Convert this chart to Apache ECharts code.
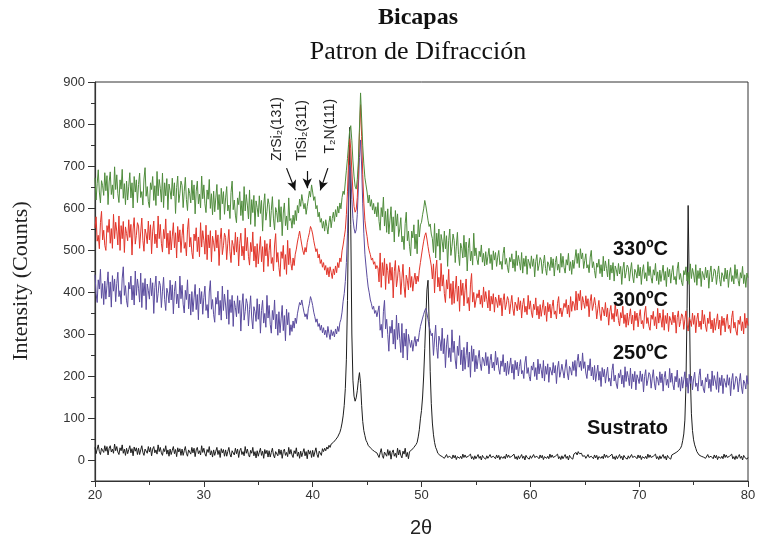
<!DOCTYPE html>
<html>
<head>
<meta charset="utf-8">
<script src="https://cdn.jsdelivr.net/npm/echarts@6/dist/echarts.min.js"></script>
<style>
  html, body { margin: 0; padding: 0; background: #ffffff; }
  #chart { width: 760px; height: 541px; }
</style>
</head>
<body>
<div id="chart"></div>
<script>
// Diffraction scans, 2θ from 20° to 80° sampled every 0.1° (one row of ten readings per degree)
const ANGLE_START = 20;
const ANGLE_STEP = 0.1;

const sustrato = [
  30, 15, 26, 36, 20, 13, 28, 25, 18, 34,
  21, 32, 12, 28, 34, 19, 26, 16, 38, 22,
  32, 19, 13, 29, 22, 36, 16, 26, 11, 28,
  15, 25, 34, 17, 27, 10, 31, 21, 29, 13,
  28, 13, 24, 34, 18, 11, 26, 23, 16, 32,
  19, 30, 10, 26, 32, 17, 24, 14, 36, 20,
  30, 17, 11, 27, 20, 34, 14, 24, 9, 26,
  13, 23, 32, 15, 25, 8, 29, 19, 27, 11,
  26, 11, 22, 32, 16, 9, 24, 21, 14, 30,
  17, 28, 8, 24, 30, 15, 22, 12, 34, 18,
  28, 15, 9, 25, 18, 32, 12, 22, 7, 24,
  11, 21, 30, 13, 23, 6, 27, 17, 25, 9,
  24, 9, 20, 30, 14, 7, 22, 19, 12, 28,
  15, 26, 6, 22, 28, 13, 20, 10, 32, 16,
  26, 13, 7, 23, 16, 30, 10, 20, 5, 22,
  9, 19, 28, 11, 21, 4, 25, 15, 23, 7,
  22, 7, 18, 28, 12, 5, 20, 17, 10, 26,
  13, 24, 4, 20, 26, 11, 18, 8, 30, 14,
  25, 12, 6, 22, 15, 29, 9, 19, 4, 21,
  8, 18, 27, 10, 20, 3, 24, 14, 22, 6,
  23, 8, 19, 29, 13, 6, 21, 18, 11, 27,
  20, 28, 22, 31, 26, 35, 30, 38, 34, 42,
  40, 48, 46, 55, 58, 66, 75, 88, 105, 130,
  170, 240, 380, 600, 792, 560, 300, 190, 152, 140,
  148, 165, 190, 208, 182, 130, 92, 70, 58, 47,
  42, 35, 38, 29, 31, 24, 27, 20, 23, 17,
  21, 6, 17, 27, 11, 4, 19, 16, 9, 25,
  11, 22, 2, 18, 24, 9, 16, 6, 28, 12,
  24, 11, 5, 21, 14, 28, 8, 18, 3, 20,
  18, 24, 22, 30, 28, 37, 42, 55, 72, 98,
  118, 150, 200, 265, 340, 405, 428, 330, 210, 135,
  88, 60, 42, 30, 24, 16, 18, 11, 14, 8,
  10, 4, 8, 13, 6, 2, 9, 7, 3, 12,
  5, 11, 1, 8, 12, 4, 9, 3, 14, 6,
  12, 6, 2, 9, 5, 14, 3, 8, 1, 10,
  3, 8, 13, 4, 9, 0, 11, 6, 10, 2,
  10, 4, 8, 13, 6, 2, 9, 7, 3, 12,
  5, 11, 1, 8, 12, 4, 9, 3, 14, 6,
  12, 6, 2, 9, 5, 14, 3, 8, 1, 10,
  3, 8, 13, 4, 9, 0, 11, 6, 10, 2,
  10, 4, 8, 13, 6, 2, 9, 7, 3, 12,
  5, 11, 1, 8, 12, 4, 9, 3, 14, 6,
  12, 6, 2, 9, 5, 14, 3, 8, 1, 10,
  3, 8, 13, 4, 9, 0, 11, 6, 10, 2,
  14, 10, 18, 12, 20, 15, 11, 16, 9, 13,
  10, 4, 8, 13, 6, 2, 9, 7, 3, 12,
  5, 11, 1, 8, 12, 4, 9, 3, 14, 6,
  12, 6, 2, 9, 5, 14, 3, 8, 1, 10,
  3, 8, 13, 4, 9, 0, 11, 6, 10, 2,
  10, 4, 8, 13, 6, 2, 9, 7, 3, 12,
  5, 11, 1, 8, 12, 4, 9, 3, 14, 6,
  12, 6, 2, 9, 5, 14, 3, 8, 1, 10,
  3, 8, 13, 4, 9, 0, 11, 6, 10, 2,
  12, 8, 15, 11, 18, 14, 22, 19, 28, 34,
  46, 62, 95, 180, 360, 606, 420, 200, 110, 70,
  48, 36, 28, 20, 18, 12, 14, 9, 11, 7,
  10, 4, 8, 13, 6, 2, 9, 7, 3, 12,
  5, 11, 1, 8, 12, 4, 9, 3, 14, 6,
  12, 6, 2, 9, 5, 14, 3, 8, 1, 10,
  3, 8, 13, 4, 9, 0, 11, 6, 10, 2,
  6
];

const t250 = [
  441, 396, 375, 429, 407, 454, 385, 420, 370, 426,
  383, 416, 448, 388, 424, 364, 439, 402, 431, 377,
  420, 447, 389, 403, 371, 433, 460, 392, 415, 379,
  364, 423, 407, 438, 381, 416, 369, 450, 392, 431,
  409, 376, 445, 363, 422, 391, 432, 358, 419, 403,
  383, 433, 391, 422, 349, 411, 438, 375, 396, 426,
  416, 363, 402, 435, 382, 356, 409, 397, 374, 428,
  381, 417, 348, 402, 426, 372, 395, 362, 438, 384,
  416, 371, 350, 404, 382, 429, 360, 395, 345, 401,
  353, 386, 418, 358, 394, 334, 409, 372, 401, 347,
  387, 414, 356, 370, 338, 400, 427, 359, 382, 346,
  328, 387, 371, 402, 345, 380, 333, 414, 356, 395,
  369, 336, 405, 323, 382, 351, 392, 318, 379, 363,
  341, 391, 349, 380, 307, 369, 396, 333, 354, 384,
  372, 319, 358, 391, 338, 312, 365, 353, 330, 384,
  335, 371, 302, 356, 380, 326, 349, 316, 392, 338,
  368, 323, 302, 356, 334, 381, 312, 347, 297, 353,
  303, 336, 368, 308, 344, 284, 359, 322, 351, 297,
  322, 306, 331, 314, 338, 325, 348, 362, 375, 369,
  381, 366, 352, 341, 348, 335, 360, 372, 389, 380,
  368, 352, 341, 328, 336, 318, 325, 309, 321, 303,
  315, 298, 309, 292, 318, 301, 287, 310, 296, 306,
  293, 312, 300, 318, 306, 327, 335, 352, 378, 396,
  425, 470, 540, 630, 702, 690, 620, 575, 552, 540,
  548, 585, 650, 720, 762, 700, 610, 540, 490, 462,
  435, 412, 398, 381, 372, 359, 366, 349, 356, 341,
  340, 367, 309, 323, 291, 353, 380, 312, 335, 299,
  259, 318, 302, 333, 276, 311, 264, 345, 287, 326,
  289, 256, 325, 243, 302, 271, 312, 238, 299, 283,
  268, 285, 259, 279, 294, 271, 288, 282, 303, 318,
  322, 338, 347, 356, 361, 349, 335, 318, 309, 296,
  302, 249, 288, 321, 268, 242, 295, 283, 260, 314,
  253, 289, 220, 274, 298, 244, 267, 234, 310, 256,
  283, 238, 217, 271, 249, 296, 227, 262, 212, 268,
  216, 249, 281, 221, 257, 197, 272, 235, 264, 210,
  249, 217, 241, 261, 229, 213, 245, 238, 224, 256,
  225, 246, 205, 237, 252, 219, 233, 213, 259, 226,
  244, 217, 204, 236, 223, 251, 210, 231, 201, 235,
  204, 224, 243, 207, 228, 192, 237, 215, 233, 200,
  223, 239, 205, 213, 194, 231, 247, 206, 220, 199,
  188, 224, 214, 233, 199, 220, 191, 240, 205, 229,
  215, 195, 237, 188, 223, 204, 229, 185, 221, 212,
  202, 232, 207, 225, 182, 219, 235, 197, 210, 228,
  227, 195, 219, 239, 207, 191, 223, 216, 202, 234,
  213, 237, 199, 234, 252, 221, 235, 213, 255, 218,
  234, 207, 194, 226, 213, 241, 200, 221, 191, 225,
  187, 207, 226, 190, 211, 175, 220, 198, 216, 183,
  205, 221, 187, 195, 176, 213, 229, 188, 202, 181,
  170, 206, 196, 215, 181, 202, 173, 222, 187, 211,
  197, 177, 219, 170, 205, 186, 211, 167, 203, 194,
  182, 212, 187, 205, 162, 199, 215, 177, 190, 208,
  203, 171, 195, 215, 183, 167, 199, 192, 178, 210,
  184, 205, 164, 196, 211, 178, 192, 172, 218, 185,
  207, 180, 167, 199, 186, 214, 173, 194, 164, 198,
  171, 191, 210, 174, 195, 159, 204, 182, 200, 167,
  193, 209, 175, 183, 164, 201, 217, 176, 190, 169,
  160, 196, 186, 205, 171, 192, 163, 212, 177, 201,
  188, 168, 210, 161, 196, 177, 202, 158, 194, 185,
  173, 203, 178, 196, 153, 190, 206, 168, 181, 199,
  194, 162, 186, 206, 174, 158, 190, 183, 169, 201,
  180
];

const t300 = [
  552, 579, 521, 535, 503, 565, 592, 524, 547, 511,
  499, 558, 542, 573, 516, 551, 504, 585, 527, 566,
  545, 512, 581, 499, 558, 527, 568, 494, 555, 539,
  522, 572, 530, 561, 488, 550, 577, 514, 535, 565,
  557, 504, 543, 576, 523, 497, 550, 538, 515, 569,
  524, 560, 491, 545, 569, 515, 538, 505, 581, 527,
  561, 516, 495, 549, 527, 574, 505, 540, 490, 546,
  500, 533, 565, 505, 541, 481, 556, 519, 548, 494,
  535, 562, 504, 518, 486, 548, 575, 507, 530, 494,
  479, 538, 522, 553, 496, 531, 484, 565, 507, 546,
  523, 490, 559, 477, 536, 505, 546, 472, 533, 517,
  497, 547, 505, 536, 463, 525, 552, 489, 510, 540,
  530, 477, 516, 549, 496, 470, 523, 511, 488, 542,
  495, 531, 462, 516, 540, 486, 509, 476, 552, 498,
  530, 485, 464, 518, 496, 543, 474, 509, 459, 515,
  467, 500, 532, 472, 508, 448, 523, 486, 515, 461,
  499, 526, 468, 482, 450, 512, 539, 471, 494, 458,
  437, 496, 480, 511, 454, 489, 442, 523, 465, 504,
  468, 452, 481, 463, 490, 502, 519, 532, 545, 528,
  512, 498, 489, 506, 495, 518, 530, 541, 556, 549,
  538, 522, 509, 496, 503, 481, 490, 468, 477, 459,
  470, 452, 463, 441, 458, 436, 460, 447, 432, 455,
  441, 462, 446, 470, 458, 481, 472, 498, 512, 530,
  548, 585, 640, 712, 765, 742, 688, 638, 604, 590,
  596, 625, 690, 780, 846, 770, 680, 612, 570, 548,
  532, 510, 498, 489, 476, 481, 466, 472, 455, 463,
  457, 424, 493, 411, 470, 439, 480, 406, 467, 451,
  420, 470, 428, 459, 386, 448, 475, 412, 433, 463,
  447, 394, 433, 466, 413, 387, 440, 428, 405, 459,
  411, 437, 402, 428, 445, 419, 438, 425, 452, 470,
  488, 505, 521, 534, 541, 526, 508, 492, 478, 462,
  431, 467, 398, 452, 476, 412, 435, 402, 468, 414,
  441, 396, 375, 429, 407, 454, 385, 420, 370, 426,
  373, 406, 438, 378, 414, 354, 429, 392, 421, 367,
  404, 431, 373, 387, 355, 417, 444, 376, 399, 363,
  360, 396, 386, 405, 371, 392, 363, 412, 377, 401,
  382, 362, 404, 355, 390, 371, 396, 352, 388, 379,
  363, 393, 368, 386, 343, 380, 396, 358, 371, 389,
  380, 348, 372, 392, 360, 344, 376, 369, 355, 387,
  358, 379, 338, 370, 385, 352, 366, 346, 392, 359,
  379, 352, 339, 371, 358, 386, 345, 366, 336, 370,
  342, 362, 381, 345, 366, 330, 375, 353, 371, 338,
  365, 381, 347, 355, 336, 373, 389, 348, 362, 341,
  337, 373, 363, 382, 348, 369, 340, 389, 354, 378,
  372, 356, 402, 357, 396, 379, 404, 357, 389, 375,
  361, 391, 366, 384, 341, 378, 394, 356, 369, 387,
  368, 336, 360, 380, 348, 332, 364, 357, 343, 375,
  341, 362, 321, 353, 368, 335, 349, 329, 375, 342,
  359, 332, 319, 351, 338, 366, 325, 346, 316, 350,
  321, 341, 360, 324, 345, 309, 354, 332, 350, 317,
  342, 358, 324, 332, 313, 350, 366, 325, 339, 318,
  309, 345, 335, 354, 320, 341, 312, 361, 326, 350,
  336, 316, 358, 309, 344, 325, 350, 306, 342, 333,
  322, 352, 327, 345, 302, 339, 355, 317, 330, 348,
  343, 311, 335, 355, 323, 307, 339, 332, 318, 350,
  323, 344, 303, 335, 350, 317, 331, 311, 357, 324,
  346, 319, 306, 338, 325, 353, 312, 333, 303, 337,
  309, 329, 348, 312, 333, 297, 342, 320, 338, 305,
  331, 347, 313, 321, 302, 339, 355, 314, 328, 307,
  297, 333, 323, 342, 308, 329, 300, 349, 314, 338,
  320
];

const t330 = [
  672, 619, 658, 691, 638, 612, 665, 653, 630, 684,
  641, 677, 608, 662, 686, 632, 655, 622, 698, 644,
  679, 634, 613, 667, 645, 692, 623, 658, 608, 664,
  619, 652, 684, 624, 660, 600, 675, 638, 667, 613,
  656, 683, 625, 639, 607, 669, 696, 628, 651, 615,
  601, 660, 644, 675, 618, 653, 606, 687, 629, 668,
  647, 614, 683, 601, 660, 629, 670, 596, 657, 641,
  621, 671, 629, 660, 587, 649, 676, 613, 634, 664,
  654, 601, 640, 673, 620, 594, 647, 635, 612, 666,
  619, 655, 586, 640, 664, 610, 633, 600, 676, 622,
  655, 610, 589, 643, 621, 668, 599, 634, 584, 640,
  591, 624, 656, 596, 632, 572, 647, 610, 639, 585,
  624, 651, 593, 607, 575, 637, 664, 596, 619, 583,
  565, 624, 608, 639, 582, 617, 570, 651, 593, 632,
  607, 574, 643, 561, 620, 589, 630, 556, 617, 601,
  579, 629, 587, 618, 545, 607, 634, 571, 592, 622,
  608, 555, 594, 627, 574, 548, 601, 589, 566, 620,
  567, 603, 534, 588, 612, 558, 581, 548, 624, 570,
  575, 552, 583, 561, 594, 570, 606, 588, 621, 604,
  632, 615, 598, 611, 585, 604, 622, 640, 626, 655,
  638, 618, 627, 598, 606, 579, 590, 566, 575, 552,
  568, 545, 572, 556, 538, 566, 581, 553, 575, 590,
  568, 596, 579, 604, 588, 612, 598, 625, 640, 632,
  662, 690, 718, 752, 785, 796, 760, 712, 676, 652,
  645, 668, 712, 790, 874, 812, 748, 705, 672, 655,
  638, 612, 631, 604, 620, 595, 611, 586, 603, 579,
  613, 568, 547, 601, 579, 626, 557, 592, 542, 598,
  538, 571, 603, 543, 579, 519, 594, 557, 586, 532,
  550, 577, 519, 533, 501, 563, 590, 522, 545, 509,
  486, 545, 529, 560, 503, 538, 491, 572, 531, 560,
  566, 584, 598, 618, 605, 588, 571, 556, 562, 538,
  527, 494, 563, 481, 540, 509, 550, 476, 537, 521,
  495, 545, 503, 534, 461, 523, 550, 487, 508, 538,
  523, 470, 509, 542, 489, 463, 516, 504, 481, 535,
  483, 519, 450, 504, 528, 474, 497, 464, 540, 486,
  505, 478, 465, 497, 484, 512, 471, 492, 462, 496,
  465, 485, 504, 468, 489, 453, 498, 476, 494, 461,
  483, 499, 465, 473, 454, 491, 507, 466, 480, 459,
  446, 482, 472, 491, 457, 478, 449, 498, 463, 487,
  472, 452, 494, 445, 480, 461, 486, 442, 478, 469,
  456, 486, 461, 479, 436, 473, 489, 451, 464, 482,
  476, 444, 468, 488, 456, 440, 472, 465, 451, 483,
  458, 479, 438, 470, 485, 452, 466, 446, 492, 459,
  485, 458, 445, 477, 464, 492, 451, 472, 442, 476,
  456, 479, 501, 468, 492, 458, 503, 479, 493, 456,
  475, 491, 457, 465, 446, 483, 499, 458, 472, 451,
  433, 469, 459, 478, 444, 465, 436, 485, 450, 474,
  456, 436, 478, 429, 464, 445, 470, 426, 462, 453,
  438, 468, 443, 461, 418, 455, 471, 433, 446, 464,
  458, 426, 450, 470, 438, 422, 454, 447, 433, 465,
  438, 459, 418, 450, 465, 432, 446, 426, 472, 439,
  461, 434, 421, 453, 440, 468, 427, 448, 418, 452,
  425, 445, 464, 428, 449, 413, 458, 436, 454, 421,
  447, 463, 429, 437, 418, 455, 471, 430, 444, 423,
  415, 451, 441, 460, 426, 447, 418, 467, 432, 456,
  443, 423, 465, 416, 451, 432, 457, 413, 449, 440,
  429, 459, 434, 452, 409, 446, 462, 424, 437, 455,
  450, 418, 442, 462, 430, 414, 446, 439, 425, 457,
  431, 452, 411, 443, 458, 425, 439, 419, 465, 432,
  454, 427, 414, 446, 433, 461, 420, 441, 411, 445,
  434
];

const seriesNames = ['Sustrato', '250ºC', '300ºC', '330ºC'];
const seriesColors = ['#1e1e1e', '#5a4b9e', '#e2352a', '#4f8c3c'];
const xTickValues = [20, 30, 40, 50, 60, 70, 80];
const yTickValues = [0, 100, 200, 300, 400, 500, 600, 700, 800, 900];
const yMinorTicks = [-50, 50, 150, 250, 350, 450, 550, 650, 750, 850];
const peakNames = ['ZrSi₂(131)', 'TiSi₂(311)', 'T₂N(111)'];

const toPairs = arr => arr.map((v, i) => [+(ANGLE_START + i * ANGLE_STEP).toFixed(1), v]);

const chart = echarts.init(document.getElementById('chart'), null, { renderer: 'canvas' });

const tagStyle = {
  fontFamily: 'Liberation Sans, Arial, sans-serif',
  fontWeight: 'bold',
  fontSize: 20,
  color: '#111'
};
// where each curve's name sits, in (2θ, counts)
const tagAnchors = [[72.7, 74], [72.7, 253], [72.7, 380], [72.7, 501]];

function tagPoint(idx) {
  return {
    coord: tagAnchors[idx],
    label: Object.assign({ show: true, position: 'left', distance: 0, formatter: seriesNames[idx] }, tagStyle)
  };
}

const peakLabelStyle = {
  fontFamily: 'Liberation Sans, Arial, sans-serif',
  fontSize: 14,
  color: '#222'
};
const peakLabelAnchors = [[36.7, 788], [39.0, 785], [41.6, 795]];
const arrowLines = [
  [[37.6, 695], [38.4, 642]],
  [[39.5, 688], [39.5, 647]],
  [[41.4, 695], [40.7, 642]]
];

const series = [sustrato, t250, t300, t330].map((arr, idx) => {
  const s = {
    name: seriesNames[idx],
    type: 'line',
    data: toPairs(arr),
    showSymbol: false,
    symbol: 'none',
    animation: false,
    lineStyle: { color: seriesColors[idx], width: 1 },
    z: 2 + idx,
    markPoint: {
      symbol: 'circle',
      symbolSize: 1,
      silent: true,
      animation: false,
      itemStyle: { color: 'rgba(0,0,0,0)' },
      data: [tagPoint(idx)]
    }
  };
  if (idx === 3) {
    peakNames.forEach((name, k) => {
      s.markPoint.data.push({
        coord: peakLabelAnchors[k],
        label: Object.assign({ show: true, position: 'inside', rotate: 90, formatter: name }, peakLabelStyle)
      });
    });
    s.markLine = {
      silent: true,
      animation: false,
      symbol: ['none', 'arrow'],
      symbolSize: [7, 10],
      lineStyle: { color: '#111', width: 1.2, type: 'solid' },
      label: { show: false },
      data: arrowLines.map(([a, b]) => [{ coord: a }, { coord: b }])
    };
  }
  return s;
});

const tickLabelStyle = {
  fontFamily: 'Liberation Sans, Arial, sans-serif',
  fontSize: 13,
  color: '#333'
};

chart.setOption({
  backgroundColor: '#ffffff',
  animation: false,
  grid: {
    left: 95, right: 12, top: 82, bottom: 60,
    show: true, borderColor: '#333', borderWidth: 1, backgroundColor: 'transparent'
  },
  xAxis: {
    type: 'value',
    min: 20, max: 80, interval: 10,
    axisLine: { show: true, onZero: false, lineStyle: { color: '#333', width: 1.2 } },
    axisTick: { show: true, inside: false, length: 6, lineStyle: { color: '#333' } },
    minorTick: { show: true, splitNumber: 2, length: 4, lineStyle: { color: '#333' } },
    splitLine: { show: false },
    axisLabel: Object.assign({ margin: 8, customValues: xTickValues }, tickLabelStyle)
  },
  yAxis: [{
    type: 'value',
    min: -50, max: 900,
    axisLine: { show: true, onZero: false, lineStyle: { color: '#333', width: 1.2 } },
    axisTick: { show: true, inside: false, length: 7, customValues: yTickValues, lineStyle: { color: '#333' } },
    splitLine: { show: false },
    axisLabel: Object.assign({ margin: 10, customValues: yTickValues }, tickLabelStyle)
  }, {
    type: 'value',
    min: -50, max: 900,
    position: 'left',
    axisLine: { show: false },
    axisTick: { show: true, inside: false, length: 4, customValues: yMinorTicks, lineStyle: { color: '#333' } },
    splitLine: { show: false },
    axisLabel: { show: false }
  }],
  graphic: [
    {
      type: 'text', x: 418, y: 18, silent: true,
      style: {
        text: 'Bicapas', fill: '#111', align: 'center', verticalAlign: 'middle',
        font: 'bold 24px "Liberation Serif", "Times New Roman", serif'
      }
    },
    {
      type: 'text', x: 418, y: 52, silent: true,
      style: {
        text: 'Patron de Difracción', fill: '#111', align: 'center', verticalAlign: 'middle',
        font: '26px "Liberation Serif", "Times New Roman", serif'
      }
    },
    {
      type: 'text', x: 21, y: 281, rotation: Math.PI / 2, silent: true,
      style: {
        text: 'Intensity (Counts)', fill: '#222', align: 'center', verticalAlign: 'middle',
        font: '22px "Liberation Serif", "Times New Roman", serif'
      }
    },
    {
      type: 'text', x: 421, y: 528, silent: true,
      style: {
        text: '2θ', fill: '#222', align: 'center', verticalAlign: 'middle',
        font: '20px "Liberation Sans", Arial, sans-serif'
      }
    }
  ],
  series: series
});
</script>
</body>
</html>
